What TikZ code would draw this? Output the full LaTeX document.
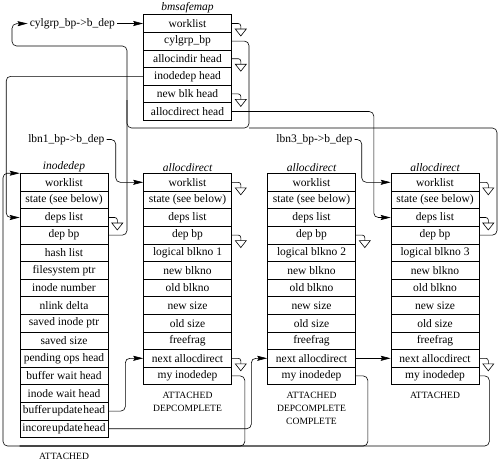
\documentclass[tikz,border=0pt]{standalone}
\usepackage{fontspec}
\setmainfont{Liberation Serif}
\usetikzlibrary{arrows.meta,positioning,calc}
\newcommand\rowfont{\fontsize{11.5}{13}\selectfont}
\newcommand\stfont{\fontsize{9.6}{13}\selectfont}

\begin{document}
\begin{tikzpicture}[x=1pt,y=-1pt,line width=0.6pt,
  fld/.style={draw,minimum width=88pt,minimum height=17.6pt,inner sep=0pt,font=\rowfont},
  ttl/.style={inner sep=1pt,font=\rowfont\itshape},
  lbl/.style={inner sep=2pt,font=\rowfont},
  flags/.style={inner sep=1pt,align=center,font=\stfont},
  wire/.style={rounded corners=4.5pt},
  ptr/.style={wire,-{Stealth[length=10pt,width=5pt,inset=1.5pt]}},
  nullp/.pic={
    \draw[rounded corners=2.5pt] (0,0) -- (9,0) -- (9,5.5);
    \draw (3.5,5.5) -- (14.5,5.5) -- (9,12.5) -- cycle;}
]
\useasboundingbox (0,0) rectangle (500,463);

% bmsafemap
\foreach \f [count=\i] in {worklist,cylgrp\_bp,allocindir head,inodedep head,new blk head,allocdirect head}
  \node[fld] (bm-\i) at (187.5,{14.7+(\i-0.5)*17.6}) {\f};
\node[ttl,above=0pt of bm-1] (bm-ttl) {bmsafemap};

% inodedep
\foreach \f [count=\i] in {worklist,state (see below),deps list,dep bp,hash list,filesystem ptr,inode number,nlink delta,saved inode ptr,saved size,pending ops head,buffer wait head,inode wait head,buffer\kern1pt update\kern1pt head,incore\kern1pt update\kern1pt head}
  \node[fld] (ino-\i) at (64,{173.5+(\i-0.5)*17.6}) {\f};
\node[ttl,above=0pt of ino-1] (ino-ttl) {inodedep};

% allocdirect x3
\foreach \b/\x/\n in {ad1/187.5/1,ad2/311.5/2,ad3/435/3} {
  \foreach \f [count=\i] in {worklist,state (see below),deps list,dep bp,logical blkno \n,new blkno,old blkno,new size,old size,freefrag,next allocdirect,my inodedep}
    \node[fld] (\b-\i) at (\x,{173.5+(\i-0.5)*17.6}) {\f};
  \node[ttl,above=0pt of \b-1] (\b-ttl) {allocdirect};
}

% states
\node[flags,below=6pt of ad1-12] (ad1-st) {ATTACHED\\DEPCOMPLETE};
\node[flags,below=6pt of ad2-12] (ad2-st) {ATTACHED\\DEPCOMPLETE\\COMPLETE};
\node[flags,below=6pt of ad3-12] (ad3-st) {ATTACHED};
\node[flags,below=14pt of ino-15] (ino-st) {ATTACHED};

% buffer labels
\node[lbl,left=26pt of bm-1] (cyl) {cylgrp\_bp->b\_dep};
\node[lbl,anchor=west] (lbn1) at (26,139.5) {lbn1\_bp->b\_dep};
\node[lbl,anchor=west] (lbn3) at (274,139.5) {lbn3\_bp->b\_dep};

% null pointers
\foreach \n in {bm-1,bm-3,bm-5,ino-3,ad1-1,ad1-4,ad1-11,ad2-4,ad3-1,ad3-3,ad3-11}
  \pic at (\n.east) {nullp};

% bp pointers
\draw[ptr] (cyl) -- (bm-1);
\draw[ptr] (bm-2.east) -| (249,128) -| (127,46) -| (12,23.8) -- (cyl.west);
\draw[wire] (ino-4.east) -| (127,100);
\draw[wire] (ad3-4.east) -| (497,128) -- (249,128);

% list heads
\draw[ptr] (bm-4.west) -- ++(-137,0) |- (ino-3.west);
\draw[ptr] (bm-6.east) -- ++(142,0) |- (ad3-3.west);
\draw[ptr] (lbn1.east) -- ++(9,0) |- (ad1-1.west);
\draw[ptr] (lbn3.east) -- ++(7,0) |- (ad3-1.west);
\draw[ptr] (ino-14.east) -- ++(17,0) |- (ad1-11.west);
\draw[ptr] (ino-15.east) -- ++(143,0) |- (ad2-11.west);
\draw[ptr] (ad2-11) -- (ad3-11);

% my inodedep
\coordinate (ibus) at (3,446);
\draw[ptr] (ad3-12.east) -- ++(10,0) |- (ibus) |- (ino-1.north west);
\draw[wire] (ad1-12.east) -- ++(13,0) |- (ino-15.west |- ibus);
\draw[wire] (ad2-12.east) -- ++(12,0) |- (ino-15.west |- ibus);
\end{tikzpicture}
\end{document}
